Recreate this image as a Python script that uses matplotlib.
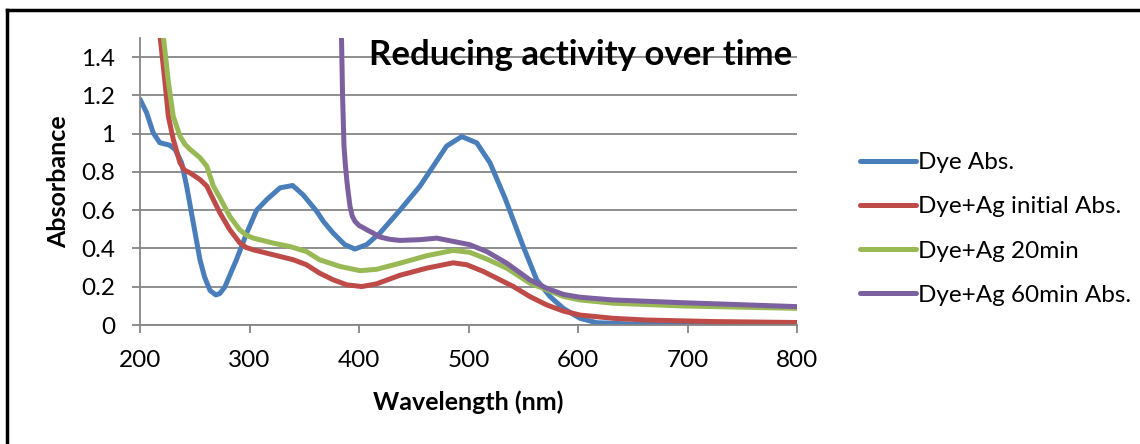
import matplotlib
matplotlib.use("Agg")
import matplotlib.pyplot as plt
from matplotlib.lines import Line2D

plt.rcParams['font.family'] = ['Lato', 'DejaVu Sans']

# Dye Abs.
dye_x = [200, 206, 212, 218, 227, 232, 238, 242.6, 247, 251, 254.8, 259, 264, 269.4, 273,
         277.6, 282, 288, 297.4, 306.5, 315.7, 327.9, 339.4, 349, 361.4, 367.4, 376.5, 387,
         396.3, 407, 419, 437.4, 455.7, 467.8, 480, 493.8, 507.5, 519.6, 533.3, 550, 562.3,
         574.4, 586.6, 601.8, 617, 650, 700, 750, 800]
dye_y = [1.18, 1.11, 1.005, 0.953, 0.94, 0.918, 0.848, 0.726, 0.586, 0.46, 0.34, 0.25,
         0.18, 0.157, 0.165, 0.2, 0.26, 0.34, 0.48, 0.60, 0.655, 0.717, 0.729, 0.68, 0.594,
         0.542, 0.48, 0.42, 0.397, 0.42, 0.48, 0.60, 0.726, 0.83, 0.935, 0.985, 0.952, 0.848,
         0.664, 0.41, 0.236, 0.149, 0.087, 0.035, 0.012, 0.005, 0.003, 0.002, 0.002]

# Dye+Ag initial Abs.
init_x = [218.3, 222.8, 225.9, 230.4, 236.5, 240.5, 245.7, 254.8, 261, 267, 273, 282, 291,
          297, 303.5, 321.7, 340, 352, 364, 376.5, 388.8, 402.5, 416, 437.4, 461.8, 486,
          498.4, 513.5, 528.8, 541, 556, 571.4, 586.6, 601.8, 632, 662.6, 723.5, 800]
init_y = [1.51, 1.27, 1.09, 0.97, 0.848, 0.81, 0.795, 0.76, 0.726, 0.655, 0.586, 0.498,
          0.43, 0.405, 0.393, 0.367, 0.341, 0.315, 0.271, 0.236, 0.21, 0.201, 0.215, 0.26,
          0.297, 0.325, 0.315, 0.28, 0.236, 0.201, 0.149, 0.105, 0.073, 0.052, 0.035, 0.026,
          0.018, 0.013]

# Dye+Ag 20min
m20_x = [221.3, 225.9, 230.4, 236.5, 241, 245.7, 254.8, 261, 267, 273, 282, 291, 297,
         303.5, 321.7, 337, 352, 364, 382.6, 401, 416, 437.4, 461.8, 486, 501, 516.6, 534.9,
         556, 571.4, 586.6, 601.8, 632, 693, 800]
m20_y = [1.51, 1.27, 1.09, 0.987, 0.945, 0.918, 0.874, 0.83, 0.726, 0.665, 0.568, 0.498,
         0.47, 0.454, 0.428, 0.41, 0.384, 0.341, 0.306, 0.284, 0.291, 0.323, 0.362, 0.39,
         0.38, 0.345, 0.297, 0.219, 0.184, 0.149, 0.131, 0.114, 0.1, 0.087]

# Dye+Ag 60min Abs.
m60_x = [384, 385, 386.3, 387.5, 388.8, 390.2, 391.8, 393.8, 396.3, 400, 404, 408, 413, 419,
         428, 437.4, 455.7, 471, 486, 501, 516.6, 534.9, 556, 571.4, 586.6, 601.8, 632, 693,
         800]
m60_y = [1.51, 1.197, 0.935, 0.84, 0.76, 0.69, 0.62, 0.57, 0.542, 0.52, 0.508, 0.495, 0.48,
         0.46, 0.448, 0.442, 0.446, 0.454, 0.437, 0.42, 0.384, 0.323, 0.236, 0.192, 0.16,
         0.145, 0.131, 0.117, 0.096]

series = [
    ("Dye Abs.", dye_x, dye_y, "#4A7EBB"),
    ("Dye+Ag initial Abs.", init_x, init_y, "#BE4B48"),
    ("Dye+Ag 20min", m20_x, m20_y, "#98B954"),
    ("Dye+Ag 60min Abs.", m60_x, m60_y, "#7D60A0"),
]

x_ticks = [200, 300, 400, 500, 600, 700, 800]
y_ticks = [0, 0.2, 0.4, 0.6, 0.8, 1.0, 1.2, 1.4]
y_tick_labels = ["0", "0.2", "0.4", "0.6", "0.8", "1", "1.2", "1.4"]

fig = plt.figure(figsize=(11.4, 4.44), dpi=100)
ax = fig.add_axes([140 / 1140, 1 - 325 / 444, 657 / 1140, 287 / 444])

grid_col = "#868686"
for name, xs, ys, col in series:
    ax.plot(xs, ys, color=col, lw=3.6, label=name,
            solid_joinstyle="round", solid_capstyle="round")

ax.set_xlim(200, 800)
ax.set_ylim(0, 1.5)
ax.set_xticks(x_ticks)
ax.set_yticks(y_ticks)
ax.set_yticklabels(y_tick_labels)
ax.yaxis.grid(True, color=grid_col, lw=1.3)
ax.set_axisbelow(True)
for s in ["top", "right"]:
    ax.spines[s].set_visible(False)
for s in ["left", "bottom"]:
    ax.spines[s].set_color(grid_col)
    ax.spines[s].set_linewidth(1.3)
ax.tick_params(axis="both", colors=grid_col, length=6, width=1.3,
               labelcolor="black", labelsize=17.5)
ax.tick_params(axis="x", pad=12)
ax.tick_params(axis="y", pad=12)

ax.set_xlabel("Wavelength (nm)", fontsize=18, fontweight="bold", labelpad=14)
ax.set_ylabel("Absorbance", fontsize=18, fontweight="bold", labelpad=8)

ax.text(0.67, 0.94, "Reducing activity over time", transform=ax.transAxes,
        ha="center", va="center", fontsize=25, fontweight="bold")

ax.legend(loc="center left", bbox_to_anchor=(848 / 1140, 1 - 229 / 444),
          bbox_transform=fig.transFigure, frameon=False, fontsize=17.5,
          borderpad=0, handlelength=2.3, handletextpad=0.1, labelspacing=0.95)

# Outer frame along the top and left edges
fig.add_artist(Line2D([7 / 1140, 1], [1 - 10 / 444, 1 - 10 / 444],
                      transform=fig.transFigure, color="black", lw=2.5))
fig.add_artist(Line2D([7 / 1140, 7 / 1140], [0, 1 - 10 / 444],
                      transform=fig.transFigure, color="black", lw=2.5))

fig.savefig("out.png", dpi=100)
